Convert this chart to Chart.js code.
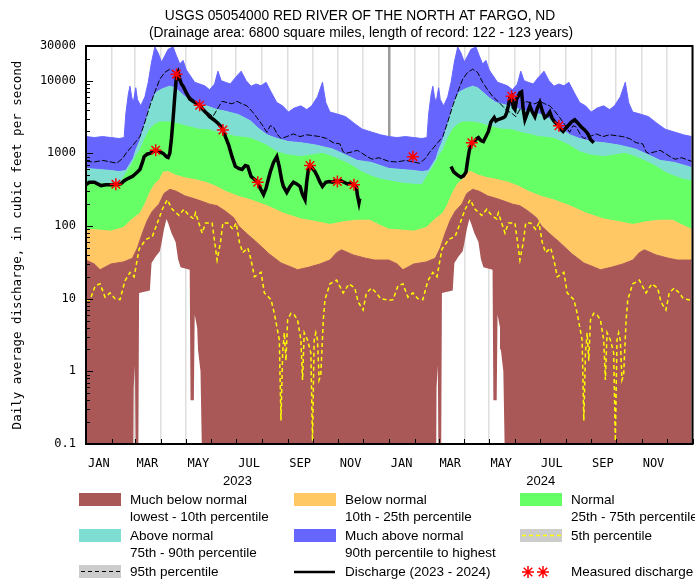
<!DOCTYPE html>
<html>
<head>
<meta charset="utf-8">
<script src="https://cdn.jsdelivr.net/npm/chart.js@4/dist/chart.umd.min.js"></script>
<style>
  html, body { margin: 0; padding: 0; background: #fff; overflow: hidden; }
  canvas { display: block; }
</style>
</head>
<body>
<canvas id="flowChart" width="700" height="579"></canvas>
<script>
// day-of-year statistics, [day, cubic feet per second]
const statMax = [[0,1700],[10,1650],[20,1700],[30,1650],[40,1600],[46,1650],[48,3500],[51,6500],[53,8400],[55,6000],[57,5000],[60,8000],[62,5500],[66,4500],[71,6000],[75,9500],[79,18000],[83,29000],[87,24000],[91,18000],[95,22000],[99,27000],[105,29000],[109,22000],[113,17000],[117,19000],[121,14000],[125,12000],[131,9500],[137,9000],[143,8500],[149,7500],[155,9000],[159,13500],[163,10000],[168,9500],[174,9000],[180,11000],[187,13500],[193,10000],[199,8400],[205,9000],[211,8500],[217,9500],[223,7000],[230,5000],[237,4500],[244,3700],[251,4200],[259,4500],[266,4000],[272,4500],[279,6000],[285,9500],[289,5000],[294,3700],[302,3500],[313,3200],[323,2600],[333,2150],[345,1950],[355,1800],[365,1700]];
const stat95 = [[0,775],[10,760],[20,800],[30,760],[37,730],[44,850],[49,1030],[54,1200],[59,1400],[65,1700],[71,2700],[77,4500],[83,7000],[89,10500],[95,13000],[101,14400],[107,13000],[113,9500],[119,7500],[125,6100],[133,5000],[141,4000],[149,3500],[153,3200],[159,4200],[164,5200],[170,5000],[176,4800],[182,5200],[188,4800],[194,4500],[200,3800],[206,3100],[212,2500],[218,1950],[222,2400],[226,2300],[231,1800],[235,1600],[242,1700],[250,1850],[258,1700],[266,1800],[274,1750],[282,1700],[290,1600],[298,1400],[306,1350],[310,1050],[313,1000],[321,1050],[327,1100],[333,1000],[339,900],[345,830],[353,870],[365,775]];
const stat90 = [[0,620],[15,600],[30,580],[40,560],[48,580],[57,850],[60,1100],[65,1500],[69,2150],[73,3000],[77,4500],[81,5800],[85,7000],[93,7800],[101,8400],[107,8000],[113,7000],[121,5800],[129,5000],[145,4500],[158,4000],[168,3800],[184,3400],[198,2800],[208,2200],[218,1800],[230,1600],[244,1450],[259,1400],[277,1300],[297,1150],[313,950],[327,800],[344,750],[365,640]];
const stat75 = [[0,420],[15,390],[30,375],[40,370],[49,550],[55,700],[61,950],[65,1100],[71,1600],[77,2150],[83,2500],[89,2700],[101,2700],[109,2600],[119,2400],[136,2150],[149,2100],[158,1950],[168,1850],[180,1700],[193,1650],[199,1600],[208,1450],[217,1300],[230,1050],[243,950],[259,900],[272,950],[285,1000],[297,900],[313,750],[323,650],[333,550],[345,480],[355,440],[365,420]];
const stat25 = [[0,90],[15,88],[30,85],[45,95],[56,125],[65,150],[71,200],[77,290],[83,380],[89,440],[93,550],[99,560],[108,500],[119,460],[129,440],[144,400],[157,350],[168,300],[184,255],[198,230],[218,190],[238,150],[259,125],[277,115],[294,105],[312,115],[327,120],[342,120],[352,105],[365,90]];
const stat10 = [[0,34],[10,30],[17,25],[30,30],[45,32],[56,36],[62,50],[68,80],[74,120],[80,160],[88,200],[94,280],[101,320],[109,300],[119,260],[129,240],[139,220],[149,200],[158,190],[168,160],[178,130],[184,100],[193,80],[207,58],[220,42],[235,31],[248,27],[255,25],[268,27],[282,30],[294,34],[302,43],[308,47],[322,40],[337,36],[348,34],[365,34]];
const stat05 = [[0,9.5],[5,9.7],[11,15],[17,16],[23,10.5],[29,12],[35,10],[41,9.7],[47,17.6],[53,23],[58,20],[64,48],[72,65],[80,72],[86,110],[92,170],[98,230],[104,170],[112,140],[118,170],[124,140],[130,125],[132,152],[136,110],[140,80],[144,110],[152,110],[158,34],[162,59],[165,110],[171,110],[177,90],[181,110],[185,59],[189,43],[195,50],[199,34],[203,20],[211,23],[215,12],[223,9.7],[227,6.3],[233,2.7],[235,0.21],[237,1.8],[239,3.4],[241,1.4],[243,5.1],[247,6.3],[251,6],[255,5.1],[259,2.7],[261,0.76],[263,3.4],[267,2.7],[271,1.8],[273,0.11],[275,2.7],[277,3.4],[279,2.7],[281,0.76],[283,0.9],[286,5.1],[288,9.7],[294,16],[302,18],[310,12],[317,16],[324,14],[328,9],[334,7],[338,12],[344,14],[350,12],[355,10],[365,9.5]];
// lowest on record (0.05 = below the 0.1 axis floor)
const statMin = [[0,0.05],[57,0.05],[57.5,0.6],[59,1.2],[60,0.05],[63,0.05],[64,12],[77,13],[79,31],[84,38],[89,45],[91,58],[94,90],[97,125],[99,110],[103,80],[108,60],[111,35],[114,27],[125,25],[126,0.4],[130,0.4],[131,6],[134,4],[135,2],[138,1],[140,0.05],[365,0.05]];

// daily discharge, [days since 2023-01-01, cfs]
const flow2023 = [[0,370],[4,400],[10,400],[14,380],[18,360],[24,370],[30,370],[36,375],[42,380],[46,420],[49,440],[54,470],[56,480],[61,540],[65,600],[68,750],[70,900],[74,980],[77,1000],[81,1050],[84,1100],[89,1050],[93,1000],[97,900],[99,880],[101,1000],[103,1600],[105,3000],[107,6100],[109,11500],[111,13000],[113,10500],[115,9000],[117,8400],[121,6800],[125,5600],[129,5200],[133,4900],[137,4600],[141,4000],[145,3600],[149,3200],[154,2900],[159,2600],[163,2300],[165,2100],[168,1700],[172,1300],[176,900],[180,660],[184,620],[188,600],[192,680],[195,660],[199,480],[203,440],[207,400],[210,330],[214,270],[217,330],[220,450],[222,550],[226,750],[230,900],[233,650],[236,420],[238,350],[242,290],[246,350],[250,400],[254,380],[258,350],[261,270],[264,230],[266,400],[268,600],[270,680],[273,620],[276,560],[279,480],[282,400],[285,350],[289,400],[293,410],[297,400],[300,420],[303,410],[307,420],[311,400],[315,380],[319,390],[323,370],[326,340],[327,270],[329,210],[330,240]];
const flow2024 = [[440,660],[443,560],[446,520],[449,490],[452,470],[455,490],[458,550],[460,800],[462,1100],[465,1400],[468,1450],[471,1600],[473,1650],[476,1500],[479,1450],[482,1700],[485,2000],[488,2700],[492,3100],[494,2800],[496,2900],[500,3000],[503,3100],[505,3200],[507,3600],[509,4500],[511,5800],[513,6100],[515,4300],[517,4000],[519,5600],[521,6100],[523,6800],[525,7000],[527,4000],[529,2900],[532,3600],[535,4500],[538,3700],[541,3200],[544,4200],[547,5000],[550,3800],[553,3100],[556,3300],[559,3700],[562,3000],[565,2700],[568,2500],[570,2400],[573,2100],[575,2000],[578,2200],[581,2400],[585,2700],[589,2900],[593,2600],[597,2300],[601,2100],[605,1850],[608,1550],[612,1400]];
const measured = [[36,375],[84,1100],[109,12300],[137,4600],[165,2100],[207,400],[270,680],[303,410],[323,370],[394,900],[465,1400],[513,6100],[570,2400]];

const monthStarts = [0,31,59,90,120,151,181,212,243,273,304,334,365,396,425,456,486,517,547,578,609,639,670,700,731];
const monthMids = [15.5,74,135.5,196.5,258,319];
const monthNames = ['JAN','MAR','MAY','JUL','SEP','NOV'];
const yearMids = [182.5,548];
const yearNames = ['2023','2024'];
const yTicks = [0.1,1,10,100,1000,10000,30000];
const yTickLabels = ['0.1','1','10','100','1000','10000','30000'];

const titleLines = ['USGS 05054000 RED RIVER OF THE NORTH AT FARGO, ND',
  '(Drainage area: 6800 square miles, length of record: 122 - 123 years)'];
const yTitle = 'Daily average discharge, in cubic feet per second';

const BROWN = '#aa5757', ORANGE = '#ffc864', GREEN = '#66ff66', CYAN = '#7fded2', BLUE = '#6666ff';
const YELLOW = '#ffff00';
const MONO = "'DejaVu Sans Mono', monospace";
const SANS = "'Liberation Sans', Arial, sans-serif";

function toPts(pairs) {
  return pairs.map(p => ({x: p[0], y: p[1]}));
}
// the statistics are by day of year, so they repeat for 2024
function twoYears(pairs) {
  const pts = pairs.filter(p => p[0] < 365).map(p => ({x: p[0], y: p[1]}));
  pairs.forEach(p => pts.push({x: p[0] + 365, y: p[1]}));
  return pts;
}

function band(data, color) {
  return {data: twoYears(data), borderColor: color, borderWidth: 1, backgroundColor: color,
    fill: '-1', pointRadius: 0, order: 10};
}

function star(ctx, cx, cy, r) {
  ctx.beginPath();
  for (let k = 0; k < 4; k++) {
    const a = k * Math.PI / 4;
    ctx.moveTo(cx - r * Math.cos(a), cy - r * Math.sin(a));
    ctx.lineTo(cx + r * Math.cos(a), cy + r * Math.sin(a));
  }
  ctx.stroke();
}

const decor = {
  id: 'decor',
  afterDatasetsDraw(chart) {
    const {ctx, chartArea: a, scales: {x, y}} = chart;
    ctx.save();
    ctx.strokeStyle = '#000';
    ctx.lineWidth = 1;
    ctx.beginPath();
    monthStarts.forEach(v => {
      const px = Math.round(x.getPixelForValue(v)) + 0.5;
      ctx.moveTo(px, a.bottom);
      ctx.lineTo(px, a.bottom - 5);
    });
    for (let d = 0.1; d <= 10000; d *= 10) {
      for (let k = 1; k <= 9; k++) {
        const v = d * k;
        if (v > 30000) break;
        const py = Math.round(y.getPixelForValue(v)) + 0.5;
        ctx.moveTo(a.left, py);
        ctx.lineTo(a.left + (k === 1 ? 7 : 4), py);
      }
    }
    ctx.stroke();
    ctx.lineWidth = 2;
    ctx.strokeRect(a.left, a.top, a.right - a.left, a.bottom - a.top);
    ctx.restore();
  },
  afterDraw(chart) {
    const {ctx, scales: {x}} = chart;
    ctx.save();
    ctx.fillStyle = '#000';
    ctx.textAlign = 'center';
    ctx.textBaseline = 'middle';
    ctx.font = '13.8px ' + SANS;
    ctx.fillText(titleLines[0], 360, 16);
    ctx.fillText(titleLines[1], 361, 33);

    ctx.font = '12px ' + MONO;
    [0, 365].forEach(off => {
      monthMids.forEach((m, i) => {
        ctx.fillText(monthNames[i], x.getPixelForValue(m + off), 464);
      });
    });
    ctx.font = '13px ' + SANS;
    yearMids.forEach((m, i) => ctx.fillText(yearNames[i], x.getPixelForValue(m), 481));

    // legend
    ctx.textAlign = 'left';
    ctx.font = '13.5px ' + SANS;
    const cols = [79, 294, 520];
    const txt = [130, 345, 571];
    const rows = [493, 529, 565];
    const boxes = [
      [0, 0, BROWN, ['Much below normal', 'lowest - 10th percentile']],
      [1, 0, ORANGE, ['Below normal', '10th - 25th percentile']],
      [2, 0, GREEN, ['Normal', '25th - 75th percentile']],
      [0, 1, CYAN, ['Above normal', '75th - 90th percentile']],
      [1, 1, BLUE, ['Much above normal', '90th percentile to highest']]
    ];
    boxes.forEach(([c, r, col, lines]) => {
      ctx.fillStyle = col;
      ctx.fillRect(cols[c], rows[r], 42, 13);
      ctx.fillStyle = '#000';
      ctx.fillText(lines[0], txt[c], rows[r] + 7);
      ctx.fillText(lines[1], txt[c], rows[r] + 24);
    });
    ctx.fillStyle = '#cccccc';
    ctx.fillRect(cols[2], rows[1], 42, 13);
    ctx.fillRect(cols[0], rows[2], 42, 13);
    ctx.lineWidth = 1.5;
    ctx.setLineDash([4, 3]);
    ctx.strokeStyle = YELLOW;
    ctx.beginPath(); ctx.moveTo(cols[2] + 2, rows[1] + 6.5); ctx.lineTo(cols[2] + 41, rows[1] + 6.5); ctx.stroke();
    ctx.strokeStyle = '#000';
    ctx.lineWidth = 1;
    ctx.beginPath(); ctx.moveTo(cols[0] + 2, rows[2] + 6.5); ctx.lineTo(cols[0] + 41, rows[2] + 6.5); ctx.stroke();
    ctx.setLineDash([]);
    ctx.lineWidth = 2.5;
    ctx.beginPath(); ctx.moveTo(cols[1], rows[2] + 7); ctx.lineTo(cols[1] + 41, rows[2] + 7); ctx.stroke();
    ctx.strokeStyle = '#ff0000';
    ctx.lineWidth = 1.5;
    star(ctx, cols[2] + 8, rows[2] + 7, 6);
    star(ctx, cols[2] + 23, rows[2] + 7, 6);
    ctx.fillStyle = '#000';
    ctx.fillText('95th percentile', txt[0], rows[2] + 7);
    ctx.fillText('Discharge (2023 - 2024)', txt[1], rows[2] + 7);
    ctx.fillText('5th percentile', txt[2], rows[1] + 7);
    ctx.fillText('Measured discharge', txt[2], rows[2] + 7);
    ctx.restore();
  }
};

new Chart(document.getElementById('flowChart'), {
  type: 'line',
  data: {
    datasets: [
      {data: twoYears(statMin), borderColor: 'rgba(0,0,0,0)', pointRadius: 0, fill: false, order: 10},
      band(stat10, BROWN),
      band(stat25, ORANGE),
      band(stat75, GREEN),
      band(stat90, CYAN),
      band(statMax, BLUE),
      {data: twoYears(stat05), borderColor: YELLOW, borderWidth: 1.5, borderDash: [4, 3],
        pointRadius: 0, fill: false, order: 4},
      {data: twoYears(stat95), borderColor: '#000', borderWidth: 1, borderDash: [6, 2],
        pointRadius: 0, fill: false, order: 3},
      {data: toPts(flow2023), borderColor: '#000', borderWidth: 3.5, pointRadius: 0, fill: false, order: 2},
      {data: toPts(flow2024), borderColor: '#000', borderWidth: 3.5, pointRadius: 0, fill: false, order: 2},
      {data: toPts(measured), showLine: false, pointStyle: 'star', pointRadius: 6,
        pointBorderColor: '#ff0000', pointBorderWidth: 1.5, fill: false, order: 1}
    ]
  },
  options: {
    responsive: false,
    animation: false,
    devicePixelRatio: 1,
    layout: {padding: {top: 46, bottom: 135, left: 0, right: 1}},
    plugins: {legend: {display: false}, tooltip: {enabled: false}},
    scales: {
      x: {
        type: 'linear', min: 0, max: 731,
        afterBuildTicks: s => { s.ticks = monthStarts.map(v => ({value: v})); },
        afterFit: s => { s.height = 0; },
        ticks: {display: false},
        border: {display: false},
        grid: {
          drawTicks: false,
          color: c => (c.tick && c.tick.value === 365 ? '#9a9a9a' : '#dedede'),
          lineWidth: c => (c.tick && c.tick.value === 365 ? 2.5 : 1.5)
        }
      },
      y: {
        type: 'logarithmic', min: 0.1, max: 30000,
        afterBuildTicks: s => { s.ticks = yTicks.map(v => ({value: v})); },
        afterFit: s => { s.width = 86; },
        grid: {display: false, drawTicks: false},
        border: {display: false},
        ticks: {font: {family: MONO, size: 12}, color: '#000', padding: 10,
          callback: (v, i) => yTickLabels[i]},
        title: {display: true, text: yTitle, color: '#000',
          font: {family: MONO, size: 12.5}, padding: {top: 10, bottom: 0}}
      }
    }
  },
  plugins: [decor]
});
</script>
</body>
</html>
